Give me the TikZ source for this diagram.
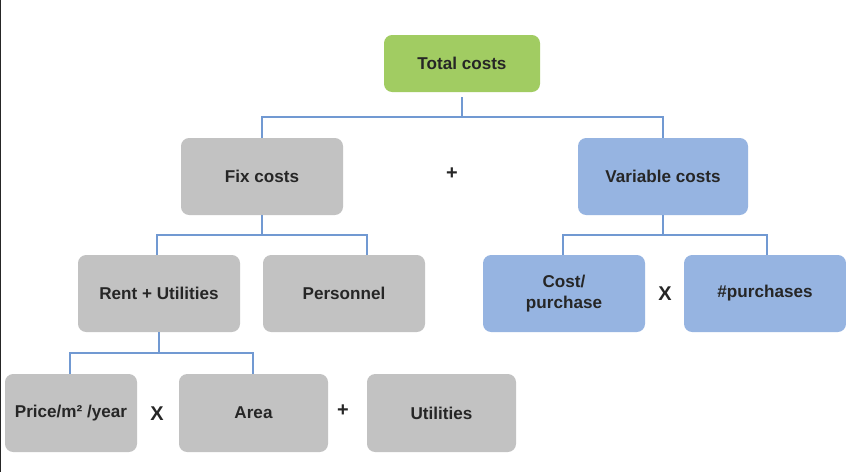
\documentclass[tikz,border=0pt]{standalone}
\usepackage{fontspec}
\setmainfont{Liberation Sans}
\definecolor{boxgreen}{HTML}{A1CC62}
\definecolor{boxgray}{HTML}{C2C2C2}
\definecolor{boxblue}{HTML}{96B4E1}
\definecolor{connblue}{HTML}{7199D2}
\begin{document}
\begin{tikzpicture}[x=0.03cm,y=-0.03cm,
  box/.style={rectangle,rounded corners=7pt,draw=none,inner sep=0pt,font=\bfseries\fontsize{14.6}{16}\selectfont,text=black!85,align=center},
  greenbox/.style={box,fill=boxgreen},
  graybox/.style={box,fill=boxgray},
  bluebox/.style={box,fill=boxblue},
  conn/.style={draw=connblue,line width=1.6pt},
  op/.style={font=\bfseries\fontsize{17}{19}\selectfont,text=black!85}]
\useasboundingbox (0,0) rectangle (846,472);
\fill[white] (0,0) rectangle (846,472);
\draw[black!85,line width=1pt] (0.5,0) -- (0.5,472);
% nodes
\node[greenbox,minimum width=156*0.03cm,minimum height=57*0.03cm] (total) at (462,63.5) {Total costs};
\node[graybox,minimum width=162*0.03cm,minimum height=77*0.03cm] (fix) at (262,176.5) {Fix costs};
\node[bluebox,minimum width=170*0.03cm,minimum height=77*0.03cm] (var) at (663,176.5) {Variable costs};
\node[graybox,minimum width=162*0.03cm,minimum height=77*0.03cm] (rent) at (159,293.5) {Rent + Utilities};
\node[graybox,minimum width=162*0.03cm,minimum height=77*0.03cm] (pers) at (344,293.5) {Personnel};
\node[bluebox,minimum width=162*0.03cm,minimum height=77*0.03cm] (cpp) at (564,293.5) {Cost/\\[2pt]purchase};
\node[bluebox,minimum width=162*0.03cm,minimum height=77*0.03cm] (npur) at (765,293.5) {\#purchases};
\node[graybox,minimum width=132*0.03cm,minimum height=78*0.03cm] (price) at (71,413) {Price/m² /year};
\node[graybox,minimum width=149*0.03cm,minimum height=78*0.03cm] (area) at (253.5,413) {Area};
\node[graybox,minimum width=149*0.03cm,minimum height=78*0.03cm] (util) at (441.5,413) {Utilities};
% operators
\node[op] (plus1) at (452,174) {+};
\node[op] (x1) at (665,294) {X};
\node[op] (x2) at (157,414) {X};
\node[op] (plus2) at (343,411) {+};
% connectors
\coordinate (j1) at (462,117);
\draw[conn] ([yshift=-5*0.03cm]total.south) -- (j1);
\draw[conn] (fix.north) |- (j1) -| (var.north);
\coordinate (j2) at (262,235);
\draw[conn] (fix.south) -- (j2);
\draw[conn] ([xshift=-2*0.03cm]rent.north) |- (j2) -| ([xshift=23*0.03cm]pers.north);
\coordinate (j3) at (663,235);
\draw[conn] (var.south) -- (j3);
\draw[conn] ([xshift=-1*0.03cm]cpp.north) |- (j3) -| ([xshift=2*0.03cm]npur.north);
\coordinate (j4) at (159,353);
\draw[conn] (rent.south) -- (j4);
\draw[conn] ([xshift=-1*0.03cm]price.north) |- (j4) -| ([xshift=-0.5*0.03cm]area.north);
\end{tikzpicture}
\end{document}
